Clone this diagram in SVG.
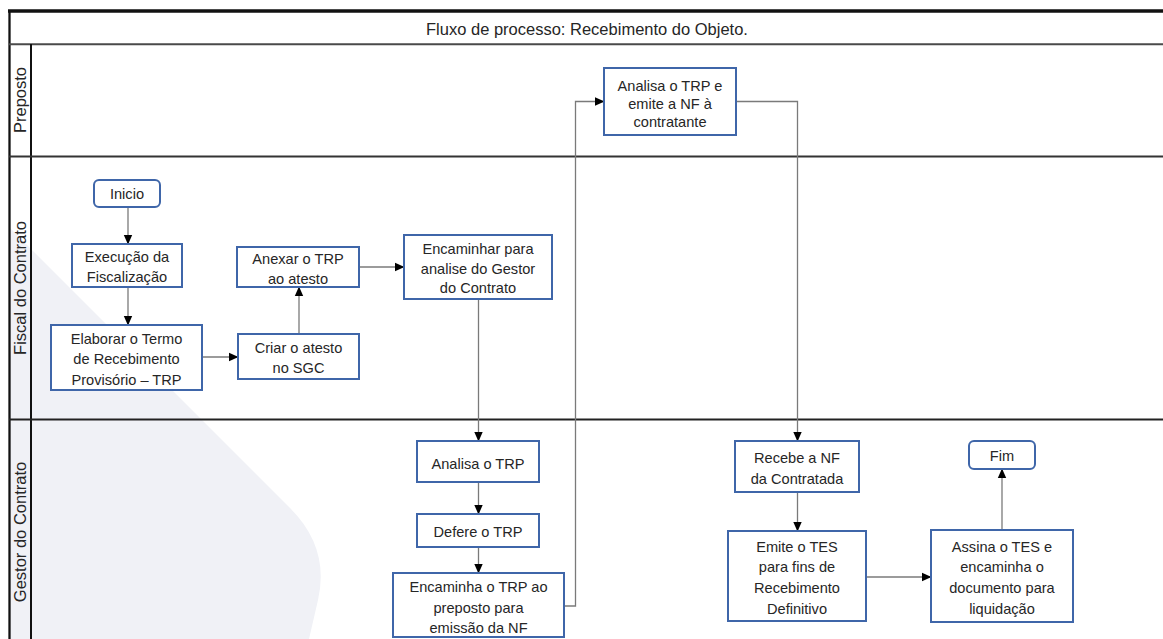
<svg xmlns="http://www.w3.org/2000/svg" width="1163" height="639" viewBox="0 0 1163 639">
<style>
.box{fill:#fff;stroke:#3f66a9;stroke-width:2}
.t{font-family:"Liberation Sans",Arial,sans-serif;font-size:14.6px;fill:#262626;text-anchor:middle}
.lbl{font-family:"Liberation Sans",Arial,sans-serif;font-size:16.5px;fill:#262626;text-anchor:middle}
.con{fill:none;stroke:#7a7a7a;stroke-width:1.3}
.frame{stroke:#111;fill:none}
</style>
<defs>
<marker id="ah" markerWidth="10" markerHeight="10" refX="9" refY="5" orient="auto" markerUnits="userSpaceOnUse">
<path d="M0,0.8 L9.5,5 L0,9.2 Z" fill="#000"/>
</marker>
</defs>
<rect x="0" y="0" width="1163" height="639" fill="#fff"/>
<path d="M9,227 L290,508 Q330,548 318,600 L309,639 L9,639 Z" fill="#f0f1f6"/>
<g id="frame">
<line class="frame" x1="8" y1="11" x2="1163" y2="11" stroke-width="3.3"/>
<line class="frame" x1="9.5" y1="10" x2="9.5" y2="639" stroke-width="2.3"/>
<line x1="9" y1="44.3" x2="1163" y2="44.3" stroke="#4a4a4a" stroke-width="2"/>
<line class="frame" x1="31" y1="44" x2="31" y2="639" stroke-width="2" stroke="#222"/>
<line x1="9" y1="156.5" x2="1163" y2="156.5" stroke="#333" stroke-width="2"/>
<line x1="9" y1="419.5" x2="1163" y2="419.5" stroke="#222" stroke-width="2"/>
<text class="lbl" x="587" y="35">Fluxo de processo: Recebimento do Objeto.</text>
<text class="lbl" transform="translate(25.5,100) rotate(-90)">Preposto</text>
<text class="lbl" transform="translate(25.5,288) rotate(-90)">Fiscal do Contrato</text>
<text class="lbl" transform="translate(25.5,532) rotate(-90)">Gestor do Contrato</text>
</g>
<g id="connectors">
<line class="con" x1="128" y1="207" x2="128" y2="244" marker-end="url(#ah)"/>
<line class="con" x1="128" y1="287" x2="128" y2="325" marker-end="url(#ah)"/>
<line class="con" x1="202" y1="357" x2="238" y2="357" marker-end="url(#ah)"/>
<line class="con" x1="299" y1="334" x2="299" y2="287" marker-end="url(#ah)"/>
<line class="con" x1="359" y1="267" x2="404" y2="267" marker-end="url(#ah)"/>
<line class="con" x1="478.5" y1="299" x2="478.5" y2="441" marker-end="url(#ah)"/>
<line class="con" x1="478.5" y1="482" x2="478.5" y2="514" marker-end="url(#ah)"/>
<line class="con" x1="478.5" y1="547" x2="478.5" y2="573" marker-end="url(#ah)"/>
<path class="con" d="M564,606 H575.5 V101.5 H604" marker-end="url(#ah)"/>
<path class="con" d="M736,101.5 H797.5 V441" marker-end="url(#ah)"/>
<line class="con" x1="797.5" y1="492" x2="797.5" y2="531" marker-end="url(#ah)"/>
<line class="con" x1="866" y1="577" x2="931" y2="577" marker-end="url(#ah)"/>
<line class="con" x1="1002" y1="530" x2="1002" y2="469" marker-end="url(#ah)"/>
</g>
<g id="inicio">
<rect class="box" x="94" y="180" width="66" height="27" rx="5"/>
<text class="t" x="127" y="198.5">Inicio</text>
</g>
<g id="execucao">
<rect class="box" x="72" y="244" width="110" height="43"/>
<text class="t" x="127" y="262">Execução da</text>
<text class="t" x="127" y="282">Fiscalização</text>
</g>
<g id="elaborar">
<rect class="box" x="51" y="325" width="151" height="65"/>
<text class="t" x="126.5" y="343.5">Elaborar o Termo</text>
<text class="t" x="126.5" y="364">de Recebimento</text>
<text class="t" x="126.5" y="384.5">Provisório – TRP</text>
</g>
<g id="criar">
<rect class="box" x="238" y="334" width="121" height="45"/>
<text class="t" x="298.5" y="352.5">Criar o atesto</text>
<text class="t" x="298.5" y="373">no SGC</text>
</g>
<g id="anexar">
<rect class="box" x="237" y="247" width="122" height="40"/>
<text class="t" x="298" y="263.5">Anexar o TRP</text>
<text class="t" x="298" y="284">ao atesto</text>
</g>
<g id="encaminhar">
<rect class="box" x="404" y="235" width="148" height="64"/>
<text class="t" x="478" y="253.5">Encaminhar para</text>
<text class="t" x="478" y="273.5">analise do Gestor</text>
<text class="t" x="478" y="293">do Contrato</text>
</g>
<g id="preposto-analisa">
<rect class="box" x="604" y="68" width="132" height="67"/>
<text class="t" x="670" y="90.5">Analisa o TRP e</text>
<text class="t" x="670" y="108.5">emite a NF à</text>
<text class="t" x="670" y="127">contratante</text>
</g>
<g id="analisa">
<rect class="box" x="417" y="441" width="122" height="41"/>
<text class="t" x="478" y="468.5">Analisa o TRP</text>
</g>
<g id="defere">
<rect class="box" x="417" y="514" width="122" height="33"/>
<text class="t" x="478" y="537">Defere o TRP</text>
</g>
<g id="encaminha">
<rect class="box" x="393" y="573" width="171" height="64"/>
<text class="t" x="478.5" y="592">Encaminha o TRP ao</text>
<text class="t" x="478.5" y="612.5">preposto para</text>
<text class="t" x="478.5" y="633">emissão da NF</text>
</g>
<g id="recebe">
<rect class="box" x="735" y="441" width="124" height="51"/>
<text class="t" x="797" y="462.5">Recebe a NF</text>
<text class="t" x="797" y="483.5">da Contratada</text>
</g>
<g id="emite">
<rect class="box" x="728" y="531" width="138" height="90"/>
<text class="t" x="797" y="552">Emite o TES</text>
<text class="t" x="797" y="572">para fins de</text>
<text class="t" x="797" y="593">Recebimento</text>
<text class="t" x="797" y="613.5">Definitivo</text>
</g>
<g id="assina">
<rect class="box" x="931" y="530" width="142" height="92"/>
<text class="t" x="1002" y="552">Assina o TES e</text>
<text class="t" x="1002" y="572">encaminha o</text>
<text class="t" x="1002" y="593">documento para</text>
<text class="t" x="1002" y="613.5">liquidação</text>
</g>
<g id="fim">
<rect class="box" x="969" y="441" width="66" height="28" rx="5"/>
<text class="t" x="1002" y="460.5">Fim</text>
</g>
</svg>
